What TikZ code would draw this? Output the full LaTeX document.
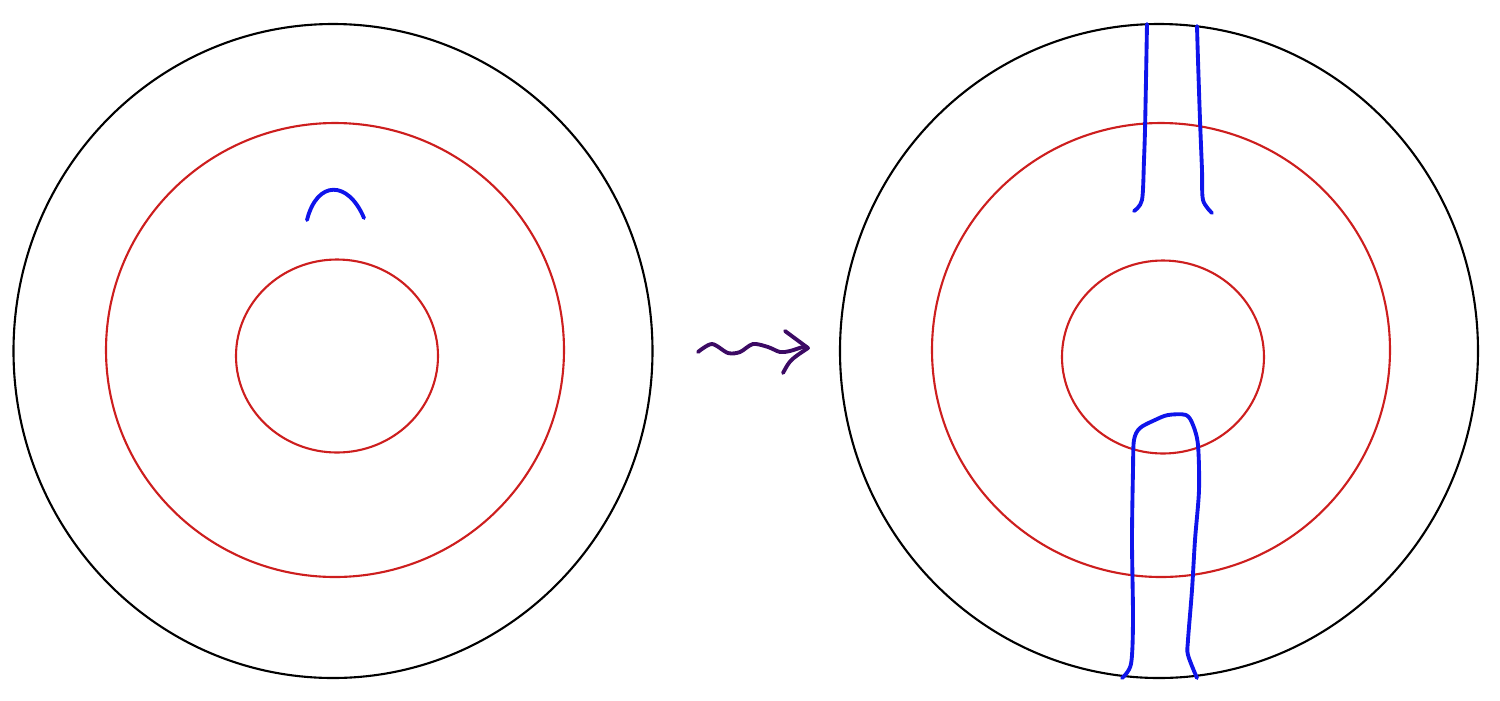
\documentclass[tikz,border=0pt]{standalone}
\usepackage{tikz}
\usetikzlibrary{calc}
\definecolor{ringred}{RGB}{205,30,30}
\definecolor{curveblue}{RGB}{15,20,235}
\definecolor{squigpurple}{RGB}{60,10,100}
\tikzstyle{rim}=[draw=black,line width=0.6pt]
\tikzstyle{ring}=[draw=ringred,line width=0.6pt]
\tikzstyle{curve}=[draw=curveblue,line width=1.1pt,line cap=round,line join=round]
\tikzstyle{squig}=[draw=squigpurple,line width=1.1pt,line cap=round,line join=round]

\begin{document}
\begin{tikzpicture}
\useasboundingbox (0,0) rectangle (15,7);
% left disc
\coordinate (lc) at (3.33,3.49);
\draw[rim] (lc) ellipse [x radius=3.195,y radius=3.27];
\draw[ring] ($(lc)+(0.02,0.01)$) ellipse [x radius=2.29,y radius=2.27];
\draw[ring] ($(lc)+(0.04,-0.05)$) ellipse [x radius=1.01,y radius=0.965];
\draw[curve] (3.07,4.80) .. controls (3.17,5.20) and (3.48,5.20) .. (3.64,4.82);
% squiggly arrow
\coordinate (arrowtail) at (6.98,3.48);
\coordinate (arrowtip) at (8.08,3.52);
\draw[squig] plot[smooth] coordinates {(arrowtail) (7.12,3.56) (7.28,3.47) (7.40,3.48)
  (7.53,3.56) (7.68,3.53) (7.80,3.48) (7.90,3.49) (8.03,3.53) (arrowtip)};
\draw[squig] (7.85,3.69) -- (arrowtip);
\draw[squig] (7.83,3.27) .. controls (7.90,3.40) .. (arrowtip);
% right disc
\coordinate (rc) at (11.59,3.49);
\draw[rim] (rc) ellipse [x radius=3.19,y radius=3.27];
\draw[ring] ($(rc)+(0.02,0.01)$) ellipse [x radius=2.29,y radius=2.27];
\draw[ring] ($(rc)+(0.04,-0.06)$) ellipse [x radius=1.01,y radius=0.965];
\draw[curve] plot[smooth] coordinates {(11.34,4.89) (11.42,5.00) (11.44,5.40)
  (11.45,5.70) (11.46,6.20) (11.47,6.76)};
\draw[curve] plot[smooth] coordinates {(12.12,4.87) (12.03,5.00) (12.02,5.30)
  (12.00,5.80) (11.98,6.40) (11.97,6.74)};
\draw[curve] plot[smooth] coordinates {(11.22,0.22) (11.31,0.36) (11.33,0.80)
  (11.32,1.60) (11.33,2.30) (11.34,2.60) (11.40,2.72) (11.55,2.80) (11.68,2.85)
  (11.86,2.85) (11.93,2.75) (11.98,2.55) (11.99,2.10) (11.95,1.60) (11.92,1.10)
  (11.88,0.60) (11.88,0.45) (11.97,0.22)};
\end{tikzpicture}
\end{document}
